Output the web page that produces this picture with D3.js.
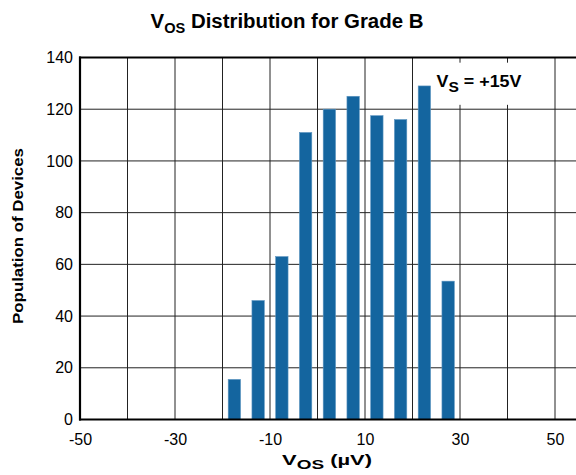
<!DOCTYPE html>
<html>
<head>
<meta charset="utf-8">
<script src="https://cdn.jsdelivr.net/npm/d3@7"></script>
<style>
  body { margin: 0; background: #fff; }
  text { font-family: "Liberation Sans", Arial, sans-serif; fill: #000; }
</style>
</head>
<body>
<div id="chart"></div>
<script>
var svgWidth = 576;
var svgHeight = 475;

// bin centres (µV) and device counts
var binCenters = [-17.5, -12.5, -7.5, -2.5, 2.5, 7.5, 12.5, 17.5, 22.5, 27.5];
var counts     = [15.5, 46, 63, 111, 120, 125, 117.5, 116, 129, 53.5];
var xTicks = [-50, -30, -10, 10, 30, 50];
var xGrid  = [-40, -30, -20, -10, 0, 10, 20, 30, 40, 50];
var yTicks = [0, 20, 40, 60, 80, 100, 120, 140];

var margin = { top: 57.5, right: 0, bottom: 55.5, left: 80 };
var width  = svgWidth  - margin.left - margin.right;
var height = svgHeight - margin.top  - margin.bottom;

var svg = d3.select("#chart")
  .append("svg")
  .attr("width", svgWidth)
  .attr("height", svgHeight);

var chartGroup = svg.append("g")
  .attr("transform", `translate(${margin.left}, ${margin.top})`);

// 10 units = 47.5 px, plot runs off the right edge
var x = d3.scaleLinear()
  .domain([-50, -50 + width / 4.75])
  .range([0, width]);

var y = d3.scaleLinear()
  .domain([0, 140])
  .range([height, 0]);

// stretch a text element so it spans targetW px (the reference type is wide)
function fitWidth(textSel, cx, cy, targetW, rotate) {
  var w = textSel.node().getComputedTextLength();
  var s = targetW / w;
  textSel.attr("transform",
    `translate(${cx}, ${cy})` + (rotate ? ` rotate(${rotate})` : "") + ` scale(${s}, 1)`);
}

// grid
chartGroup.append("g").selectAll("line")
  .data(xGrid)
  .enter()
  .append("line")
  .attr("x1", d => x(d)).attr("x2", d => x(d))
  .attr("y1", 0).attr("y2", height)
  .attr("stroke", "#222")
  .attr("stroke-width", 1);

chartGroup.append("g").selectAll("line")
  .data(yTicks.slice(1, -1))
  .enter()
  .append("line")
  .attr("x1", 0).attr("x2", width)
  .attr("y1", d => y(d)).attr("y2", d => y(d))
  .attr("stroke", "#222")
  .attr("stroke-width", 1);

// white box behind the annotation
chartGroup.append("rect")
  .attr("x", x(24.3))
  .attr("y", y(138))
  .attr("width", x(44) - x(24.3))
  .attr("height", y(121.7) - y(138))
  .attr("fill", "#fff");

// bars
var barW = x(2.6) - x(0);
chartGroup.selectAll(".bar")
  .data(binCenters)
  .enter()
  .append("rect")
  .attr("class", "bar")
  .attr("x", (d, i) => x(d) - barW / 2)
  .attr("y", (d, i) => y(counts[i]))
  .attr("width", barW)
  .attr("height", (d, i) => y(0) - y(counts[i]))
  .attr("fill", "#14659f")
  .attr("stroke", "#5b94c0")
  .attr("stroke-width", 0.6);

// frame: left, bottom, top
chartGroup.append("line")
  .attr("x1", 0).attr("x2", 0).attr("y1", -1).attr("y2", height + 1)
  .attr("stroke", "#000").attr("stroke-width", 2.2);
chartGroup.append("line")
  .attr("x1", -1).attr("x2", width).attr("y1", height).attr("y2", height)
  .attr("stroke", "#000").attr("stroke-width", 2.2);
chartGroup.append("line")
  .attr("x1", -1).attr("x2", width).attr("y1", 0).attr("y2", 0)
  .attr("stroke", "#000").attr("stroke-width", 2.2);

// axes (labels only), plain hyphen minus like the original
var bottomAxis = d3.axisBottom(x).tickValues(xTicks).tickSize(0).tickPadding(14)
  .tickFormat(d => String(d));
var leftAxis   = d3.axisLeft(y).tickValues(yTicks).tickSize(0).tickPadding(7)
  .tickFormat(d => String(d));

var xAxis = chartGroup.append("g")
  .attr("transform", `translate(0, ${height})`)
  .call(bottomAxis);
var yAxis = chartGroup.append("g")
  .call(leftAxis);

[xAxis, yAxis].forEach(function(a) {
  a.select(".domain").remove();
  a.selectAll("text")
    .attr("font-family", "Liberation Sans, Arial, sans-serif")
    .attr("font-size", "16px")
    .attr("fill", "#000");
});

// title
var title = svg.append("text")
  .attr("text-anchor", "middle")
  .attr("font-size", "21px")
  .attr("font-weight", "bold");
title.append("tspan").text("V");
title.append("tspan").attr("font-size", "15px").attr("dy", 5).text("OS");
title.append("tspan").attr("dy", -5).text(" Distribution for Grade B");
fitWidth(title, 287, 28, 273);

// annotation
var note = chartGroup.append("text")
  .attr("font-size", "16px")
  .attr("font-weight", "bold");
note.append("tspan").text("V");
note.append("tspan").attr("font-size", "14px").attr("dy", 5).text("S");
note.append("tspan").attr("dy", -5).text(" = +15V");
note.attr("text-anchor", "middle");
fitWidth(note, 479 - margin.left, 87 - margin.top, 85);

// axis titles
var xTitle = svg.append("text")
  .attr("text-anchor", "middle")
  .attr("font-size", "15px")
  .attr("font-weight", "bold");
xTitle.append("tspan").text("V");
xTitle.append("tspan").attr("font-size", "13px").attr("dy", 4).text("OS");
xTitle.append("tspan").attr("dy", -4).text(" (\u00b5V)");
fitWidth(xTitle, 327, 465, 90);

var yTitle = svg.append("text")
  .attr("text-anchor", "middle")
  .attr("font-size", "14px")
  .attr("font-weight", "bold")
  .text("Population of Devices");
fitWidth(yTitle, 22.5, 236, 176, -90);
</script>
</body>
</html>
